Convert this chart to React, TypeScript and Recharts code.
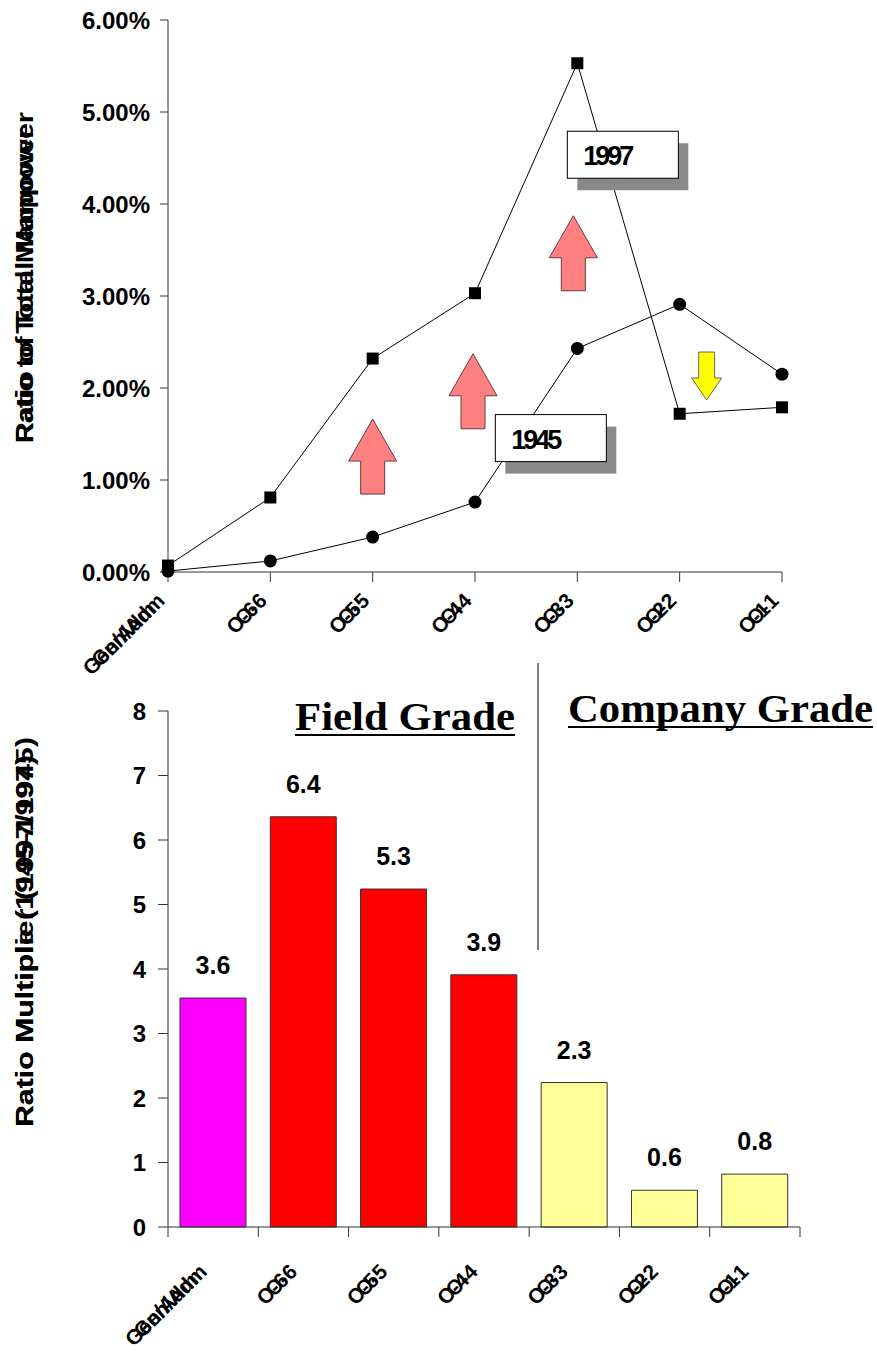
import React from 'react';
import {
  LineChart,
  Line,
  BarChart,
  Bar,
  XAxis,
  YAxis,
  Cell,
  LabelList,
  ReferenceDot,
} from 'recharts';

const grades = ['Gen/Adm', 'O-6', 'O-5', 'O-4', 'O-3', 'O-2', 'O-1'];
// percent of total manpower
const ratio1997 = [0.07, 0.81, 2.32, 3.03, 5.53, 1.72, 1.79];
const ratio1945 = [0.01, 0.12, 0.38, 0.76, 2.43, 2.91, 2.15];
const pctTicks = [0, 1, 2, 3, 4, 5, 6];

const multiples = [3.55, 6.36, 5.24, 3.91, 2.24, 0.57, 0.82];
const multipleLabels = ['3.6', '6.4', '5.3', '3.9', '2.3', '0.6', '0.8'];
const barColors = ['#FF00FF', '#FF0000', '#FF0000', '#FF0000', '#FFFF99', '#FFFF99', '#FFFF99'];
const multTicks = [0, 1, 2, 3, 4, 5, 6, 7, 8];

// annotations on the top chart: [grade, value, pixel nudge]
const upArrows = [
  { x: 'O-5', y: 1.26, dx: 0 },
  { x: 'O-4', y: 1.97, dx: -2 },
  { x: 'O-3', y: 3.47, dx: -4 },
];
const downArrow = { x: 'O-2', y: 2.13, dx: 27 };
const yearBoxes = [
  { x: 'O-3', y: 4.53, dx: 45, text: '1997' },
  { x: 'O-3', y: 1.45, dx: -27, text: '1945' },
];

const lineData = grades.map((g, i) => ({ grade: g, y1997: ratio1997[i], y1945: ratio1945[i] }));
const barData = grades.map((g, i) => ({ grade: g, value: multiples[i], label: multipleLabels[i] }));

const FONT = 'Arial, "Liberation Sans", sans-serif';
const SERIF = '"Times New Roman", "Liberation Serif", serif';

const SquareDot = (p: any) => (
  <rect x={p.cx - 6} y={p.cy - 6} width={12} height={12} fill="#000" />
);
const CircleDot = (p: any) => <circle cx={p.cx} cy={p.cy} r={6.5} fill="#000" />;

const UpArrow = (p: any) => {
  const cx = p.cx + (p.dx || 0);
  const cy = p.cy;
  const pts = [
    [cx, cy - 37],
    [cx + 24, cy + 5],
    [cx + 12, cy + 5],
    [cx + 12, cy + 38],
    [cx - 12, cy + 38],
    [cx - 12, cy + 5],
    [cx - 24, cy + 5],
  ];
  return <polygon points={pts.map((q) => q.join(',')).join(' ')} fill="#FF8080" stroke="#6b3a3a" strokeWidth={1} />;
};

const DownArrow = (p: any) => {
  const cx = p.cx + (p.dx || 0);
  const cy = p.cy;
  const pts = [
    [cx - 8, cy - 24],
    [cx + 8, cy - 24],
    [cx + 8, cy + 2],
    [cx + 15, cy + 2],
    [cx, cy + 24],
    [cx - 15, cy + 2],
    [cx - 8, cy + 2],
  ];
  return <polygon points={pts.map((q) => q.join(',')).join(' ')} fill="#FFFF00" stroke="#666" strokeWidth={1} />;
};

const YearBox = (p: any) => {
  const cx = p.cx + (p.dx || 0);
  const cy = p.cy;
  return (
    <g>
      <rect x={cx - 45} y={cy - 12} width={111} height={47} fill="#888" />
      <rect x={cx - 55} y={cy - 24} width={111} height={47} fill="#fff" stroke="#000" strokeWidth={1} />
      <text x={cx - 15} y={cy + 10} textAnchor="middle" fontFamily={FONT} fontWeight="bold" fontSize={27} letterSpacing={-3} fill="#000">
        {p.text}
      </text>
    </g>
  );
};

// rotated category label, drawn twice with a small shift like the original
const SlantTick = (dy: number) => (p: any) => {
  const { x, y, payload } = p;
  return (
    <g transform={`translate(${x - 2},${y + dy})`}>
      {[0, -12].map((off) => (
        <text key={off} x={off} y={0} transform="rotate(-45)" textAnchor="end" fontFamily={FONT} fontWeight="bold" fontSize={21} fill="#000">
          {payload.value}
        </text>
      ))}
    </g>
  );
};

// bottom chart: tick marks sit on band edges
const BarTick = (p: any) => {
  const { x, y, payload, index } = p;
  const half = payload.offset || 45;
  const y0 = y - 8;
  return (
    <g>
      <line x1={x - half} x2={x - half} y1={y0} y2={y0 + 10} stroke="#333" />
      {index === grades.length - 1 && <line x1={x + half} x2={x + half} y1={y0} y2={y0 + 10} stroke="#333" />}
      <g transform={`translate(${x - 5},${y0 + 46})`}>
        {[0, -12].map((off) => (
          <text key={off} x={off} y={0} transform="rotate(-45)" textAnchor="end" fontFamily={FONT} fontWeight="bold" fontSize={21} fill="#000">
            {payload.value}
          </text>
        ))}
      </g>
    </g>
  );
};

const yTickStyle = { fontFamily: FONT, fontWeight: 'bold', fontSize: 24, fill: '#000' };

export default function App() {
  return (
    <div style={{ position: 'absolute', left: 0, top: 0, width: 877, height: 1359, background: '#fff' }}>
      <div style={{ position: 'absolute', left: 0, top: 0 }}>
        <LineChart width={877} height={700} data={lineData} margin={{ top: 20, right: 95, bottom: 40, left: 0 }}>
          <XAxis
            dataKey="grade"
            scale="point"
            padding={{ left: 0, right: 0 }}
            height={88}
            tickSize={10}
            stroke="#333"
            interval={0}
            tick={SlantTick(18)}
          />
          <YAxis
            width={168}
            domain={[0, 6]}
            ticks={pctTicks}
            tickSize={8}
            tickMargin={10}
            stroke="#333"
            tick={yTickStyle}
            tickFormatter={(v: number) => `${v.toFixed(2)}%`}
          />
          <Line dataKey="y1945" stroke="#000" strokeWidth={1} dot={CircleDot} isAnimationActive={false} />
          <Line dataKey="y1997" stroke="#000" strokeWidth={1} dot={SquareDot} isAnimationActive={false} />
          {upArrows.map((a, i) => (
            <ReferenceDot key={i} x={a.x} y={a.y} shape={(p: any) => <UpArrow {...p} dx={a.dx} />} />
          ))}
          <ReferenceDot x={downArrow.x} y={downArrow.y} shape={(p: any) => <DownArrow {...p} dx={downArrow.dx} />} />
          {yearBoxes.map((b, i) => (
            <ReferenceDot key={i} x={b.x} y={b.y} shape={(p: any) => <YearBox {...p} dx={b.dx} text={b.text} />} />
          ))}
        </LineChart>
      </div>
      <div style={{ position: 'absolute', left: 0, top: 660 }}>
        <BarChart width={877} height={699} data={barData} margin={{ top: 51, right: 77, bottom: 0, left: 0 }} barSize={66}>
          <XAxis dataKey="grade" height={132} tickLine={false} stroke="#333" interval={0} tick={BarTick} />
          <YAxis width={168} domain={[0, 8]} ticks={multTicks} tickSize={10} tickMargin={12} stroke="#333" tick={yTickStyle} />
          <Bar dataKey="value" stroke="#333" strokeWidth={1} isAnimationActive={false}>
            {barData.map((d, i) => (
              <Cell key={i} fill={barColors[i]} />
            ))}
            <LabelList dataKey="label" position="top" offset={24} style={{ fontFamily: FONT, fontWeight: 'bold', fontSize: 25, fill: '#000' }} />
          </Bar>
        </BarChart>
      </div>
      <svg width={877} height={1359} style={{ position: 'absolute', left: 0, top: 0, pointerEvents: 'none' }}>
        <g fontFamily={FONT} fontWeight="bold" fontSize={23} fill="#000">
          <text transform="translate(33,443) rotate(-90)" textLength={315} lengthAdjust="spacingAndGlyphs">Ratio to Total Manpower</text>
          <text transform="translate(33,443) rotate(-90)" textLength={331} lengthAdjust="spacingAndGlyphs">Ratio of Total Manpower</text>
          <text transform="translate(33,1127) rotate(-90)" textLength={372} lengthAdjust="spacingAndGlyphs">Ratio Multiple (1945-1997)</text>
          <text transform="translate(33,1127) rotate(-90)" textLength={390} lengthAdjust="spacingAndGlyphs">Ratio Multiplier (1997/1945)</text>
        </g>
        <line x1={538} x2={538} y1={663} y2={950} stroke="#808080" strokeWidth={2} />
        <g fontFamily={SERIF} fontWeight="bold" fontSize={41} fill="#000">
          <text x={295} y={730} textLength={220} lengthAdjust="spacingAndGlyphs">Field Grade</text>
          <text x={568} y={722} textLength={305} lengthAdjust="spacingAndGlyphs">Company Grade</text>
        </g>
        <line x1={295} x2={515} y1={735} y2={735} stroke="#000" strokeWidth={2} />
        <line x1={568} x2={873} y1={727} y2={727} stroke="#000" strokeWidth={2} />
      </svg>
    </div>
  );
}
